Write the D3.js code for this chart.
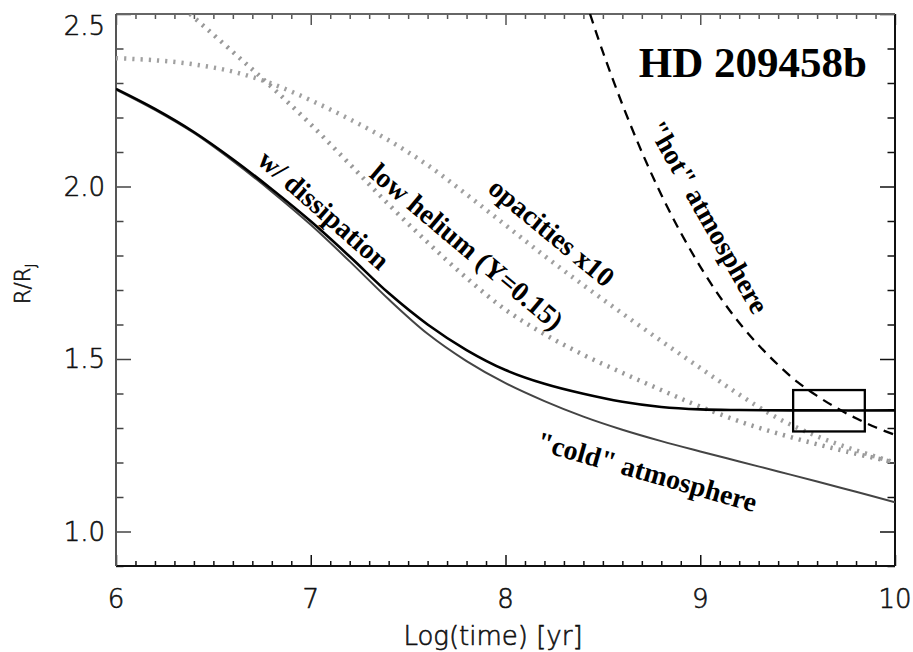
<!DOCTYPE html>
<html lang="en">
    <head>
        <meta charset="utf-8">
        <title>HD 209458b radius evolution</title>
        <script type="text/javascript" src="https://cdn.jsdelivr.net/npm/d3@7"></script>
        <style>
            body { margin: 0; background: white; }
        </style>
    </head>
    <body>
        <script type="text/javascript">
            const w = 913
            const h = 652

            // tick values
            const xMajor = [6, 7, 8, 9, 10]
            const yMajor = [1.0, 1.5, 2.0, 2.5]

            // [log(time), R/RJ]
            const dissipation = [[6.0,2.283],[6.2,2.225],[6.4,2.158],[6.6,2.079],[6.8,1.992],[7.0,1.899],[7.2,1.797],
                                 [7.4,1.691],[7.6,1.600],[7.8,1.526],[8.0,1.468],[8.2,1.428],[8.4,1.399],[8.6,1.376],
                                 [8.8,1.361],[9.0,1.354],[9.2,1.352],[9.6,1.351],[10.0,1.351]]
            const cold = [[6.0,2.281],[6.2,2.222],[6.4,2.155],[6.6,2.074],[6.8,1.985],[7.0,1.889],[7.2,1.783],
                          [7.4,1.673],[7.6,1.573],[7.8,1.494],[8.0,1.430],[8.2,1.378],[8.4,1.333],[8.6,1.295],
                          [8.8,1.262],[9.0,1.232],[9.2,1.203],[9.4,1.174],[9.6,1.145],[9.8,1.115],[10.0,1.085]]
            const lowHelium = [[6.38,2.5],[6.6,2.39],[6.8,2.288],[7.0,2.18],[7.2,2.065],[7.4,1.948],[7.6,1.838],
                               [7.8,1.735],[8.0,1.643],[8.2,1.572],[8.4,1.512],[8.6,1.460],[8.8,1.410],[9.0,1.362],
                               [9.25,1.31],[9.5,1.268],[9.75,1.232],[10.0,1.2]]
            const opacities = [[6.0,2.372],[6.2,2.366],[6.4,2.354],[6.6,2.333],[6.8,2.298],[7.0,2.25],[7.2,2.195],
                               [7.4,2.134],[7.6,2.062],[7.8,1.977],[8.0,1.888],[8.2,1.799],[8.4,1.714],[8.6,1.632],
                               [8.8,1.552],[9.0,1.474],[9.2,1.397],[9.4,1.328],[9.6,1.276],[9.8,1.235],[10.0,1.2]]
            const hot = [[8.434,2.5],[8.5,2.39],[8.6,2.238],[8.7,2.1],[8.8,1.976],[8.9,1.866],[9.0,1.768],
                         [9.1,1.681],[9.2,1.605],[9.3,1.540],[9.4,1.483],[9.5,1.433],[9.6,1.393],[9.7,1.358],
                         [9.8,1.328],[9.9,1.302],[10.0,1.28]]
            // observed age / radius box
            const boxAge = [9.477, 9.845]
            const boxR = [1.29, 1.41]

            const margin = {left: 116, right: 18, top: 14, bottom: 86}
            const x = d3.scaleLinear().domain([6, 10]).range([margin.left, w - margin.right])
            const y = d3.scaleLinear().domain([0.9, 2.5]).range([h - margin.bottom, margin.top])

            const sans = "'DejaVu Sans', 'Liberation Sans', sans-serif"
            const serif = "'Liberation Serif', 'Times New Roman', serif"

            let svg = d3.select("body")
                        .append("svg")
                            .attr("width", w)
                            .attr("height", h)

            svg.append("clipPath")
                .attr("id", "plot")
                .append("rect")
                    .attr("x", x(6))
                    .attr("y", y(2.5))
                    .attr("width", x(10) - x(6))
                    .attr("height", y(0.9) - y(2.5))

            // minor ticks every 0.1
            const xMinor = d3.range(6, 10.001, 0.1).filter(v => Math.abs(v - Math.round(v)) > 0.01)
            const yMinor = d3.range(0.9, 2.501, 0.1).filter(v => Math.abs(v * 2 - Math.round(v * 2)) > 0.01)

            function axis(gen, tx, ty, values, size, color) {
                let g = svg.append("g")
                    .attr("transform", `translate(${tx},${ty})`)
                    .call(gen.tickValues(values).tickSizeInner(-size).tickSizeOuter(0).tickFormat(""))
                g.select(".domain").remove()
                g.selectAll("line").attr("stroke", color).attr("stroke-width", 1.5)
                return g
            }
            axis(d3.axisBottom(x), 0, y(0.9), xMajor, 11, "#111")
            axis(d3.axisBottom(x), 0, y(0.9), xMinor, 5, "#111")
            axis(d3.axisTop(x), 0, y(2.5), xMajor, 11, "#555")
            axis(d3.axisTop(x), 0, y(2.5), xMinor, 5, "#555")
            axis(d3.axisLeft(y), x(6), 0, yMajor, 15, "#444")
            axis(d3.axisLeft(y), x(6), 0, yMinor, 7.5, "#444")
            axis(d3.axisRight(y), x(10), 0, yMajor, 15, "#111")
            axis(d3.axisRight(y), x(10), 0, yMinor, 7.5, "#111")

            // frame
            svg.append("line").attr("x1", x(6)).attr("x2", x(10)).attr("y1", y(0.9)).attr("y2", y(0.9))
                .attr("stroke", "#111").attr("stroke-width", 2)
            svg.append("line").attr("x1", x(10)).attr("x2", x(10)).attr("y1", y(0.9)).attr("y2", y(2.5))
                .attr("stroke", "#111").attr("stroke-width", 2)
            svg.append("line").attr("x1", x(6)).attr("x2", x(10)).attr("y1", y(2.5)).attr("y2", y(2.5))
                .attr("stroke", "#666").attr("stroke-width", 2)
            svg.append("line").attr("x1", x(6)).attr("x2", x(6)).attr("y1", y(0.9)).attr("y2", y(2.5))
                .attr("stroke", "#555").attr("stroke-width", 2)

            // thin sans text like the original plot font
            function thin(sel, size) {
                return sel.attr("font-family", sans)
                    .attr("font-weight", 300)
                    .attr("font-size", size)
                    .attr("fill", "#111")
                    .attr("stroke", "#111")
                    .attr("stroke-width", 0.6)
            }

            // tick labels
            thin(svg.selectAll(".xlab")
                .data(xMajor)
                .enter()
                .append("text")
                    .attr("x", d => x(d))
                    .attr("y", y(0.9) + 42)
                    .attr("text-anchor", "middle")
                    .text(d => d), "26px")
            thin(svg.selectAll(".ylab")
                .data(yMajor)
                .enter()
                .append("text")
                    .attr("x", x(6) - 11)
                    .attr("y", d => Math.max(y(d), margin.top + 12))
                    .attr("dy", "0.36em")
                    .attr("text-anchor", "end")
                    .text(d => d3.format(".1f")(d)), "26px")

            // axis titles
            thin(svg.append("text")
                .attr("x", 493)
                .attr("y", 645)
                .attr("text-anchor", "middle")
                .text("Log(time) [yr]"), "26px")
            let yt = thin(svg.append("text")
                .attr("transform", "translate(30,304) rotate(-90)"), "21px")
            yt.append("tspan").text("R/R")
            yt.append("tspan").attr("font-size", "14px").attr("dy", 5).text("J")

            // curves
            let line = d3.line().x(d => x(d[0])).y(d => y(d[1])).curve(d3.curveCatmullRom.alpha(0.5))
            let plot = svg.append("g").attr("clip-path", "url(#plot)")

            plot.append("path").datum(opacities).attr("d", line)
                .attr("fill", "none").attr("stroke", "#a0a0a0").attr("stroke-width", 4.5).attr("stroke-dasharray", "2.2,6")
            plot.append("path").datum(lowHelium).attr("d", line)
                .attr("fill", "none").attr("stroke", "#999").attr("stroke-width", 4.5).attr("stroke-dasharray", "2.2,6")
            plot.append("path").datum(hot).attr("d", line)
                .attr("fill", "none").attr("stroke", "black").attr("stroke-width", 2.3).attr("stroke-dasharray", "10,7")
            plot.append("path").datum(cold).attr("d", line)
                .attr("fill", "none").attr("stroke", "#444").attr("stroke-width", 2)
            plot.append("path").datum(dissipation).attr("d", line)
                .attr("fill", "none").attr("stroke", "black").attr("stroke-width", 2.6)

            svg.append("rect")
                .attr("x", x(boxAge[0]))
                .attr("y", y(boxR[1]))
                .attr("width", x(boxAge[1]) - x(boxAge[0]))
                .attr("height", y(boxR[0]) - y(boxR[1]))
                .attr("fill", "none")
                .attr("stroke", "black")
                .attr("stroke-width", 2.3)

            // labels
            function label(txt, lx, ly, angle) {
                svg.append("text")
                    .attr("transform", `translate(${x(lx)},${y(ly)}) rotate(${angle})`)
                    .attr("text-anchor", "middle")
                    .attr("font-family", serif)
                    .attr("font-weight", "bold")
                    .attr("font-size", "28px")
                    .attr("fill", "black")
                    .text(txt)
            }
            label("w/ dissipation", 7.035, 1.912, 41.5)
            label("low helium (Y=0.15)", 7.77, 1.805, 40)
            label("opacities x10", 8.206, 1.846, 39.5)
            label("\"hot\" atmosphere", 8.999, 1.898, 60.5)
            label("\"cold\" atmosphere", 8.713, 1.147, 16)

            svg.append("text")
                .attr("x", 867)
                .attr("y", 77)
                .attr("text-anchor", "end")
                .attr("font-family", serif)
                .attr("font-weight", "bold")
                .attr("font-size", "43px")
                .attr("fill", "black")
                .text("HD 209458b")
        </script>
    </body>
</html>
